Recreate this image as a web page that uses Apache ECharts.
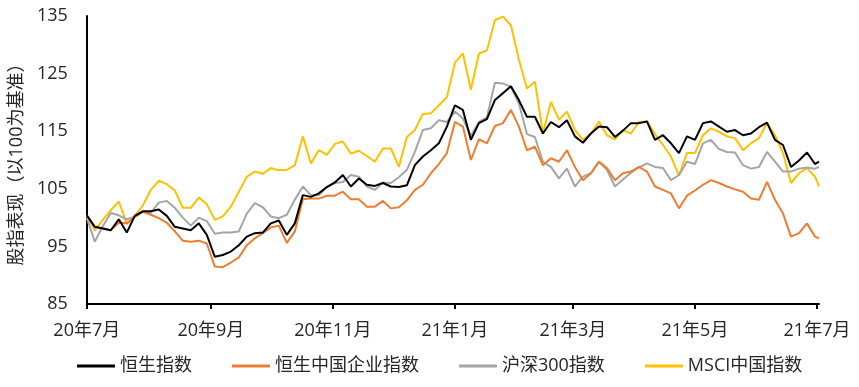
<!DOCTYPE html>
<html>
<head>
<meta charset="utf-8">
<script src="https://cdn.jsdelivr.net/npm/echarts@6/dist/echarts.min.js"></script>
<style>
html,body{margin:0;padding:0;background:#fff;}
#chart{width:859px;height:387px;}
</style>
</head>
<body>
<div id="chart"></div>
<script>
var dates = ['2020-07-01','2020-07-05','2020-07-09','2020-07-13','2020-07-17','2020-07-21','2020-07-25','2020-07-29',
'2020-08-02','2020-08-06','2020-08-10','2020-08-14','2020-08-18','2020-08-22','2020-08-26','2020-08-30',
'2020-09-03','2020-09-07','2020-09-11','2020-09-15','2020-09-19','2020-09-23','2020-09-27',
'2020-10-01','2020-10-05','2020-10-09','2020-10-13','2020-10-17','2020-10-21','2020-10-25','2020-10-29',
'2020-11-02','2020-11-06','2020-11-10','2020-11-14','2020-11-18','2020-11-22','2020-11-26','2020-11-30',
'2020-12-04','2020-12-08','2020-12-12','2020-12-16','2020-12-20','2020-12-24','2020-12-28',
'2021-01-01','2021-01-05','2021-01-09','2021-01-13','2021-01-17','2021-01-21','2021-01-25','2021-01-29',
'2021-02-02','2021-02-06','2021-02-10','2021-02-14','2021-02-18','2021-02-22','2021-02-26',
'2021-03-02','2021-03-06','2021-03-10','2021-03-14','2021-03-18','2021-03-22','2021-03-26','2021-03-30',
'2021-04-03','2021-04-07','2021-04-11','2021-04-15','2021-04-19','2021-04-23','2021-04-27',
'2021-05-01','2021-05-05','2021-05-09','2021-05-13','2021-05-17','2021-05-21','2021-05-25','2021-05-29',
'2021-06-02','2021-06-06','2021-06-10','2021-06-14','2021-06-18','2021-06-22','2021-06-26','2021-06-30',
'2021-07-02'];

var hsi = [100.4,98.4,98.1,97.8,99.7,97.4,100.3,101.1,101.1,101.4,100.3,98.4,98.1,97.8,99.0,97.0,
93.2,93.5,94.1,95.2,96.7,97.3,97.4,99.0,99.5,97.0,99.0,103.9,103.6,104.2,105.3,
106.1,107.4,105.4,106.8,105.7,105.5,106.0,105.4,105.3,105.6,109.1,110.6,111.7,112.9,115.8,
119.5,118.7,113.5,116.4,117.1,120.4,121.6,122.8,120.4,117.5,117.5,114.6,116.6,115.7,116.9,
114.1,113.0,114.6,115.8,115.7,114.0,115.1,116.4,116.4,116.7,113.5,114.3,112.9,111.2,114.1,
113.5,116.4,116.7,115.8,114.9,115.2,114.3,114.6,115.7,116.5,113.5,112.6,108.8,109.9,111.3,
109.3,109.7];

var hscei = [100.4,98.4,98.1,97.8,99.1,99.0,100.1,101.0,100.5,99.9,99.1,97.6,96.0,95.8,96.0,95.5,
91.5,91.4,92.2,93.1,95.2,96.4,97.3,98.3,98.6,95.6,97.6,103.2,103.3,103.3,103.8,
103.8,104.5,103.2,103.2,101.9,101.9,102.9,101.6,101.8,103.0,104.8,105.7,107.7,109.3,111.2,
116.6,115.8,110.0,113.6,112.9,115.9,116.4,118.7,115.8,111.7,112.3,109.1,110.3,109.7,111.7,
108.8,106.5,107.7,109.7,108.6,106.5,107.7,108.0,108.8,108.0,105.4,104.8,104.2,101.6,103.8,
104.7,105.7,106.5,106.0,105.4,104.9,104.5,103.3,103.1,106.2,103.1,100.7,96.7,97.3,99.0,
96.7,96.4];

var csi300 = [100.0,95.8,98.5,100.8,100.4,99.7,100.1,101.1,100.8,102.6,102.9,101.7,100.0,98.6,100.0,99.4,
97.2,97.4,97.4,97.6,100.7,102.5,101.8,100.2,99.9,100.5,103.1,105.4,103.9,103.9,105.3,
106.0,106.2,107.4,107.1,105.4,104.8,106.1,106.0,107.0,108.3,111.4,115.2,115.5,116.9,116.6,
118.4,117.2,114.2,116.6,117.4,123.4,123.3,122.7,119.8,114.5,114.0,109.7,108.8,106.8,108.5,
105.4,107.1,107.7,109.7,108.3,105.4,106.6,107.8,108.7,109.4,108.8,108.6,106.5,107.4,109.7,
109.3,112.9,113.5,111.9,111.4,111.3,109.1,108.5,108.8,111.4,109.7,108.0,108.0,108.5,108.7,
108.5,108.8];

var msci = [100.4,97.8,99.6,101.3,102.8,98.9,100.3,102.1,104.8,106.4,105.8,104.7,101.7,101.7,103.5,102.3,
99.6,100.2,101.9,104.5,107.1,108.0,107.6,108.6,108.2,108.3,109.1,114.1,109.4,111.7,110.9,
112.8,113.2,111.1,111.6,110.7,109.7,112.0,112.0,108.8,114.0,115.2,118.0,118.1,119.5,120.9,
126.9,128.5,122.2,128.5,129.0,134.3,134.9,133.4,127.4,122.4,123.6,114.6,120.1,117.0,118.4,
115.2,113.5,114.6,116.7,114.3,113.6,115.2,114.6,116.6,116.7,114.5,112.6,110.6,107.3,111.2,
111.2,114.3,115.5,114.9,114.1,113.8,111.7,112.9,113.8,116.4,114.3,111.2,106.0,107.7,108.6,
107.1,105.4];

var seriesNames = ['恒生指数','恒生中国企业指数','沪深300指数','MSCI中国指数'];
var tickDates = ['2020-07-01','2020-09-01','2020-11-01','2021-01-01','2021-03-01','2021-05-01','2021-07-01'];
var tickLabels = ['20年7月','20年9月','20年11月','21年1月','21年3月','21年5月','21年7月'];
var yTicks = [85,95,105,115,125,135];

function ts(s){var p=s.split('-');return Date.UTC(+p[0],+p[1]-1,+p[2]);}
var tickTs = tickDates.map(ts);
function pairs(vals){return dates.map(function(d,i){return [ts(d), vals[i]];});}

var FONT = "'Open Sans','Noto Sans CJK SC',sans-serif";
var colors = ['#000000','#ED7D31','#A5A5A5','#FFC000'];
var all = [hsi,hscei,csi300,msci];

var chart = echarts.init(document.getElementById('chart'));
chart.setOption({
  animation:false,
  color:colors,
  textStyle:{fontFamily:FONT},
  grid:{left:86,right:40,top:16,bottom:83,containLabel:false},
  legend:{
    left:77, top:357, padding:0,
    icon:'rect',
    itemWidth:38, itemHeight:3, itemGap:40,
    textStyle:{fontSize:18,color:'#262626',fontFamily:FONT},
    data:seriesNames
  },
  xAxis:{
    type:'value',
    min:ts('2020-07-01'), max:ts('2021-07-02'),
    axisLine:{show:true,lineStyle:{color:'#000',width:2}},
    axisTick:{show:true,length:5,lineStyle:{color:'#000',width:2},customValues:tickTs},
    axisLabel:{
      customValues:tickTs,
      fontSize:18,color:'#262626',margin:18,fontFamily:FONT,
      formatter:function(v){var i=tickTs.indexOf(v);return i>=0?tickLabels[i]:'';}
    },
    splitLine:{show:false}
  },
  yAxis:{
    type:'value',
    min:yTicks[0], max:yTicks[yTicks.length-1], interval:10,
    name:'股指表现（以100为基准）',
    nameLocation:'middle', nameGap:52, nameRotate:90,
    nameTextStyle:{fontSize:18,color:'#262626',fontFamily:FONT},
    axisLine:{show:true,lineStyle:{color:'#000',width:2}},
    axisTick:{show:false},
    axisLabel:{fontSize:18,color:'#262626',margin:19,fontFamily:FONT},
    splitLine:{show:false}
  },
  series: seriesNames.map(function(n,i){
    return {name:n,type:'line',data:pairs(all[i]),symbol:'none',showSymbol:false,
      lineStyle:{width:2,color:colors[i]},itemStyle:{color:colors[i]},z:10-i};
  })
});
</script>
</body>
</html>
